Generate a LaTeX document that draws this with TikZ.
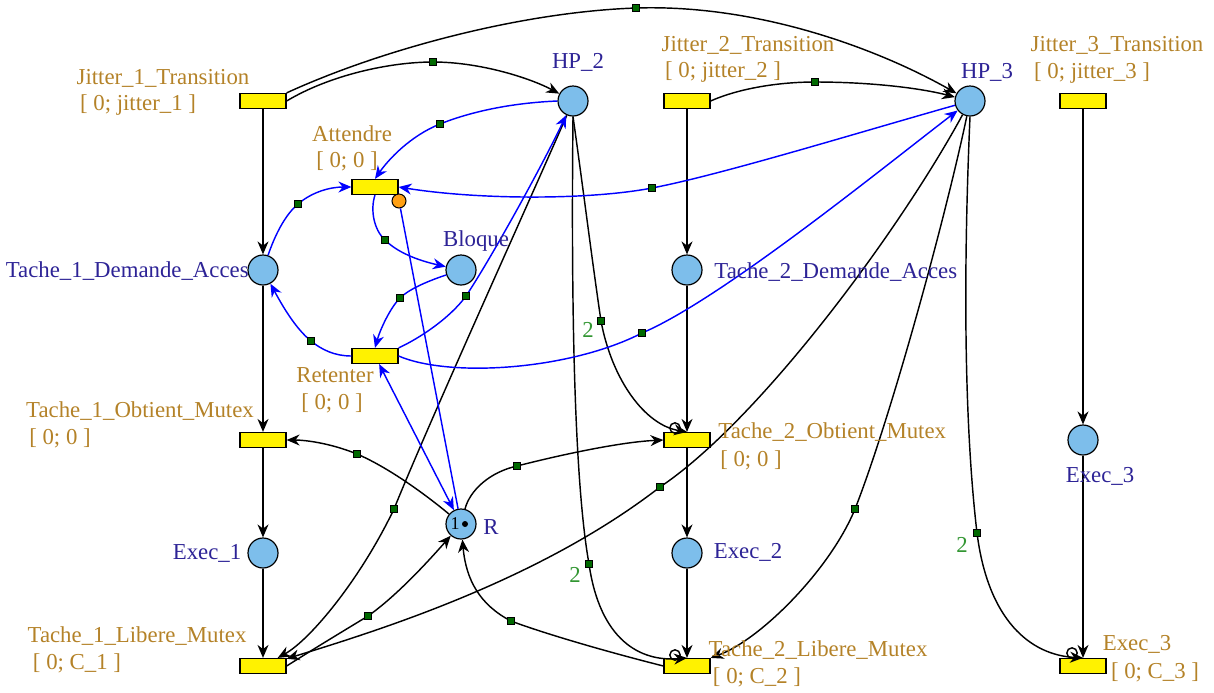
\documentclass[tikz,border=0pt]{standalone}
\usepackage{fontspec}
\setmainfont{Liberation Serif}
\usetikzlibrary{arrows.meta}
\definecolor{placefill}{RGB}{125,190,235}
\definecolor{trlab}{RGB}{180,130,40}
\definecolor{pllab}{RGB}{45,35,150}
\definecolor{wlab}{RGB}{50,150,50}
\definecolor{nail}{RGB}{0,105,0}
\definecolor{arcblue}{RGB}{0,0,255}
\definecolor{inhib}{RGB}{255,160,20}
\begin{document}
\begin{tikzpicture}[x=0.5pt,y=-0.5pt,
  place/.style={circle,draw=black,line width=0.6pt,fill=placefill,minimum size=15pt,inner sep=0pt},
  trans/.style={rectangle,draw=black,line width=0.6pt,fill=yellow,minimum width=23pt,minimum height=7.5pt,inner sep=0pt},
  lab/.style={inner sep=0pt,font=\fontsize{11.4}{13}\selectfont},
  tl/.style={lab,text=trlab},
  pl/.style={lab,text=pllab},
  wl/.style={lab,text=wlab},
  nailsq/.style={rectangle,draw=black,line width=0.3pt,fill=nail,minimum size=3.6pt,inner sep=0pt},
  arc/.style={line width=0.72pt,draw=black,-{Stealth[length=6.5pt,width=5.5pt]}},
  barc/.style={arc,draw=arcblue},
  loopc/.style={line width=0.72pt,draw=black}]
\useasboundingbox (0,0) rectangle (1214,692);

% places
\node[place] (HP2) at (573,101) {};
\node[place] (HP3) at (970,101) {};
\node[place] (T1D) at (263,270) {};
\node[place] (Blo) at (461,270) {};
\node[place] (T2D) at (687,270) {};
\node[place] (E3P) at (1083,440) {};
\node[place] (R) at (461,524) {};
\node[place] (E1) at (263,553) {};
\node[place] (E2) at (687,553) {};
% transitions
\node[trans] (J1) at (263,101) {};
\node[trans] (J2) at (687,101) {};
\node[trans] (J3) at (1083,101) {};
\node[trans] (Att) at (375,187) {};
\node[trans] (Ret) at (375,356) {};
\node[trans] (T1O) at (263,440) {};
\node[trans] (T2O) at (687,440) {};
\node[trans] (T1L) at (263,666) {};
\node[trans] (T2L) at (687,666) {};
\node[trans] (E3T) at (1083,666) {};
% inhibitor circle
\node[circle,draw=black,line width=0.5pt,fill=inhib,minimum size=7pt,inner sep=0pt] (inh) at (399,201) {};
% token
\node[inner sep=0pt,font=\fontsize{9}{10}\selectfont] (tok) at (455,524) {1};
\node[circle,fill=black,minimum size=3pt,inner sep=0pt] (dot) at (465,524) {};

% nail coordinates
\coordinate (s1) at (433,62);
\coordinate (s2) at (636,8);
\coordinate (s3) at (815,82);
\coordinate (s4) at (440,124);
\coordinate (s5) at (298,204);
\coordinate (s6) at (652,188);
\coordinate (s7) at (385,240);
\coordinate (s8) at (400,298);
\coordinate (s9) at (466,296);
\coordinate (s10) at (311,341);
\coordinate (s11) at (642,333);
\coordinate (s12) at (601,321);
\coordinate (s13) at (357,454);
\coordinate (s14) at (517,466);
\coordinate (s15) at (394,509);
\coordinate (s16) at (368,616);
\coordinate (s17) at (660,487);
\coordinate (s18) at (589,564);
\coordinate (s19) at (511,621);
\coordinate (s20) at (855,509);
\coordinate (s21) at (977,533);

% vertical arcs
\draw[arc] (J1) -- (T1D);
\draw[arc] (T1D) -- (T1O);
\draw[arc] (T1O) -- (E1);
\draw[arc] (E1) -- (T1L);
\draw[arc] (J2) -- (T2D);
\draw[arc] (T2D) -- (T2O);
\draw[arc] (T2O) -- (E2);
\draw[arc] (E2) -- (T2L);
\draw[arc] (J3) -- (E3P);
\draw[arc] (E3P) -- (E3T);

% black curved arcs
\draw[arc] (J1.east) .. controls (330,75) and (390,62) .. (s1) .. controls (480,62) and (530,78) .. (HP2);
\draw[arc] (J1.north east) .. controls (380,50) and (520,12) .. (s2) .. controls (760,4) and (880,50) .. (HP3);
\draw[arc] (J2.east) .. controls (740,88) and (780,82) .. (s3) .. controls (870,82) and (920,88) .. (HP3);
\draw[arc] (HP2.south) .. controls (582,180) and (592,260) .. (s12) .. controls (612,380) and (645,425) .. (T2O.north);
\draw[arc] (HP2.south) .. controls (571,300) and (574,480) .. (s18) .. controls (600,640) and (640,662) .. (T2L.north);
\draw[arc] (HP2) .. controls (530,200) and (430,420) .. (s15) .. controls (360,580) and (310,640) .. (T1L);
\draw[arc] (HP3) .. controls (900,230) and (760,420) .. (s17) .. controls (540,580) and (380,630) .. (T1L);
\draw[arc] (HP3) .. controls (945,220) and (890,420) .. (s20) .. controls (830,570) and (760,640) .. (T2L.north east);
\draw[arc] (HP3.south) .. controls (962,300) and (966,440) .. (s21) .. controls (988,620) and (1030,655) .. (E3T.north);
\draw[arc] (R) .. controls (420,490) and (385,466) .. (s13) .. controls (330,443) and (305,440) .. (T1O.east);
\draw[arc] (R) .. controls (470,490) and (490,472) .. (s14) .. controls (560,455) and (620,442) .. (T2O.west);
\draw[arc] (T2L.west) .. controls (600,650) and (540,632) .. (s19) .. controls (480,605) and (466,580) .. (R);
\draw[arc] (T1L.east) .. controls (320,645) and (345,630) .. (s16) .. controls (395,597) and (425,565) .. (R);
% loops of weighted arcs
\draw[loopc] (675,428) circle[radius=2.6pt];
\draw[loopc] (675,655) circle[radius=2.6pt];
\draw[loopc] (1072,653) circle[radius=2.6pt];

% blue arcs
\draw[barc] (HP2.west) .. controls (510,103) and (470,112) .. (s4) .. controls (410,136) and (388,160) .. (Att.north);
\draw[barc] (T1D) .. controls (275,235) and (285,215) .. (s5) .. controls (312,192) and (330,187) .. (Att.west);
\draw[barc] (HP3) .. controls (850,135) and (720,175) .. (s6) .. controls (590,200) and (480,200) .. (Att.east);
\draw[barc] (Att.south) .. controls (370,210) and (374,230) .. (s7) .. controls (400,255) and (425,262) .. (Blo);
\draw[barc] (Blo) .. controls (425,282) and (408,290) .. (s8) .. controls (390,308) and (380,330) .. (Ret.north);
\draw[barc] (Ret.north east) .. controls (420,338) and (450,318) .. (s9) .. controls (490,260) and (540,170) .. (HP2);
\draw[barc] (Ret.west) .. controls (335,356) and (322,350) .. (s10) .. controls (295,328) and (282,305) .. (T1D);
\draw[barc] (Ret.east) .. controls (450,378) and (570,370) .. (s11) .. controls (720,300) and (880,170) .. (HP3);
\draw[line width=0.72pt,draw=arcblue] (inh) -- (R);
\draw[barc,{Stealth[length=6.5pt,width=5.5pt]}-{Stealth[length=6.5pt,width=5.5pt]}] (Ret) -- (R);

% nails
\foreach \i in {1,...,21} {\node[nailsq] (n\i) at (s\i) {};}

% labels
\node[tl] (lJ1) at (163,78) {Jitter\_1\_Transition};
\node[tl] (lJ1b) at (138,105) {[ 0; jitter\_1 ]};
\node[pl] (lHP2) at (578,62) {HP\_2};
\node[tl] (lJ2) at (748,45) {Jitter\_2\_Transition};
\node[tl] (lJ2b) at (723,72) {[ 0; jitter\_2 ]};
\node[pl] (lHP3) at (987,72) {HP\_3};
\node[tl] (lJ3) at (1117,45) {Jitter\_3\_Transition};
\node[tl] (lJ3b) at (1092,73) {[ 0; jitter\_3 ]};
\node[tl] (lAtt) at (352,134) {Attendre};
\node[tl] (lAttb) at (347,161) {[ 0; 0 ]};
\node[pl] (lBlo) at (476,241) {Bloque};
\node[pl,anchor=east] (lT1D) at (249,271) {Tache\_1\_Demande\_Acces};
\node[pl,anchor=west] (lT2D) at (714,272) {Tache\_2\_Demande\_Acces};
\node[tl] (lRet) at (335,375) {Retenter};
\node[tl] (lRetb) at (332,403) {[ 0; 0 ]};
\node[tl] (lT1O) at (140,411) {Tache\_1\_Obtient\_Mutex};
\node[tl] (lT1Ob) at (60,438) {[ 0; 0 ]};
\node[tl,anchor=west] (lT2O) at (718,432) {Tache\_2\_Obtient\_Mutex};
\node[tl] (lT2Ob) at (751,460) {[ 0; 0 ]};
\node[pl] (lE3) at (1100,476) {Exec\_3};
\node[pl] (lR) at (491,527) {R};
\node[pl] (lE1) at (207,553) {Exec\_1};
\node[pl] (lE2) at (748,552) {Exec\_2};
\node[tl] (lT1L) at (137,636) {Tache\_1\_Libere\_Mutex};
\node[tl] (lT1Lb) at (77,663) {[ 0; C\_1 ]};
\node[tl] (lT2L) at (818,650) {Tache\_2\_Libere\_Mutex};
\node[tl] (lT2Lb) at (757,677) {[ 0; C\_2 ]};
\node[tl] (lE3T) at (1137,644) {Exec\_3};
\node[tl] (lE3Tb) at (1155,672) {[ 0; C\_3 ]};
\node[wl] (w1) at (588,330) {2};
\node[wl] (w2) at (575,575) {2};
\node[wl] (w3) at (962,545) {2};
\end{tikzpicture}
\end{document}
